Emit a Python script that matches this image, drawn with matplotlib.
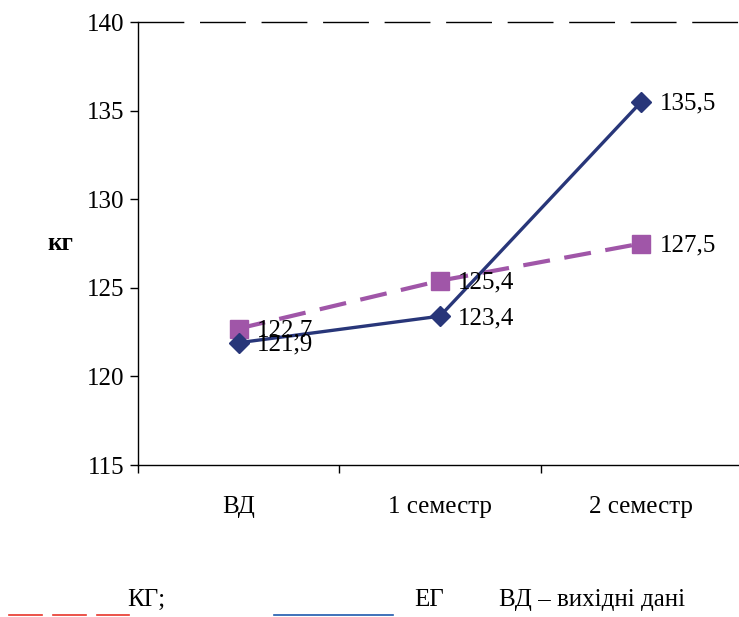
import matplotlib
matplotlib.use("Agg")
import matplotlib.pyplot as plt
from matplotlib.lines import Line2D

categories = ["ВД", "1 семестр", "2 семестр"]
eg_values = [121.9, 123.4, 135.5]
kg_values = [122.7, 125.4, 127.5]
eg_labels = ["121,9", "123,4", "135,5"]
kg_labels = ["122,7", "125,4", "127,5"]
y_ticks = [115, 120, 125, 130, 135, 140]

plt.rcParams["font.family"] = ["Liberation Serif", "DejaVu Serif"]
FS = 18

W, H = 739, 617
fig = plt.figure(figsize=(W / 100, H / 100), dpi=100)
left, right, top, bottom = 138, 742, 22, 465
ax = fig.add_axes([left / W, 1 - bottom / H, (right - left) / W, (bottom - top) / H])

x = list(range(len(categories)))
navy = "#283679"
purple = "#A056A8"

ax.plot(x, kg_values, color=purple, lw=3, ls=(0, (6.5, 3.5)), marker="s", ms=13,
        markerfacecolor=purple, markeredgecolor=purple, zorder=3)
ax.plot(x, eg_values, color=navy, lw=2.4, marker="D", ms=10,
        markerfacecolor=navy, markeredgecolor=navy, zorder=4)

for xi, v, t in zip(x, eg_values, eg_labels):
    ax.annotate(t, (xi, v), xytext=(13, -1.5), textcoords="offset points",
                ha="left", va="center", fontsize=FS, zorder=5)
for xi, v, t in zip(x, kg_values, kg_labels):
    ax.annotate(t, (xi, v), xytext=(13, -1.5), textcoords="offset points",
                ha="left", va="center", fontsize=FS, zorder=5)

ax.set_xlim(-0.5, 2.5)
ax.set_ylim(115, 140)
ax.set_yticks(y_ticks)
ax.set_xticks(x)
ax.set_xticklabels(categories, fontsize=FS)
ax.tick_params(axis="x", length=0, pad=22)
ax.set_xticks([-0.5, 0.5, 1.5, 2.5], minor=True)
ax.tick_params(axis="x", which="minor", length=6, width=1, direction="out")
ax.tick_params(axis="y", length=6, width=1, direction="out", labelsize=FS, pad=4)

ax.spines["right"].set_visible(False)
ax.spines["top"].set_visible(False)
ax.spines["left"].set_linewidth(1)
ax.spines["bottom"].set_linewidth(1)
ax.axhline(140, color="black", lw=1, ls=(0, (33, 11.3)), clip_on=False, zorder=1)

fig.text(60 / W, 1 - 243 / H, "кг", fontsize=FS, fontweight="bold", ha="center", va="center")

# legend strip along the bottom edge
for x0, x1 in [(9, 42), (53, 86), (97, 129)]:
    fig.add_artist(Line2D([x0 / W, x1 / W], [1 - 615 / H] * 2, color="#E8352A", lw=1.2))
fig.text(127 / W, 1 - 600 / H, "КГ;", fontsize=FS, ha="left", va="center")
fig.add_artist(Line2D([274 / W, 393 / W], [1 - 615 / H] * 2, color="#1F5AAE", lw=1.2))
fig.text(414 / W, 1 - 600 / H, "ЕГ", fontsize=FS, ha="left", va="center")
fig.text(499 / W, 1 - 600 / H, "ВД – вихідні дані", fontsize=FS, ha="left", va="center")

fig.savefig("out.png", dpi=100)
